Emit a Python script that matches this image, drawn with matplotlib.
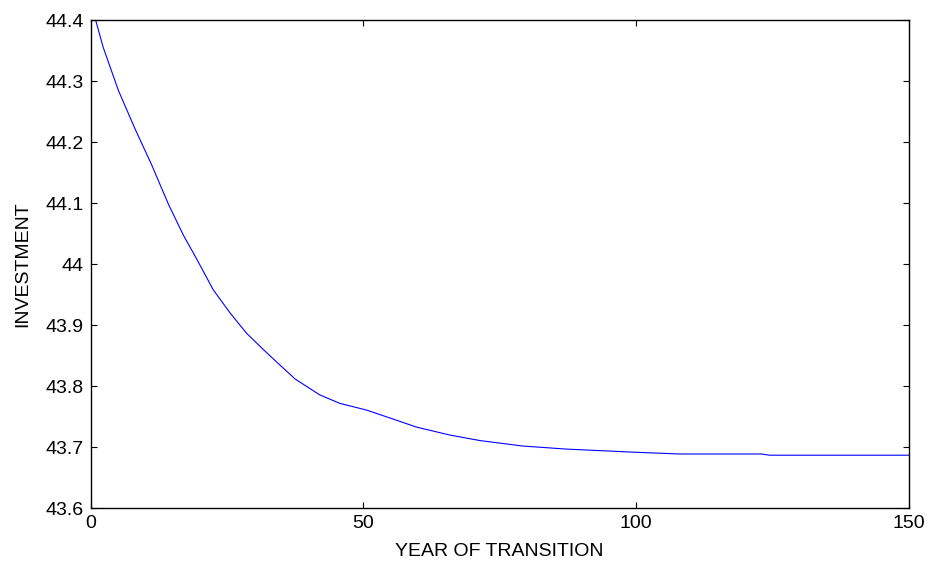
import matplotlib
matplotlib.use("Agg")
import matplotlib.pyplot as plt
from matplotlib.ticker import FormatStrFormatter

plt.rcParams["font.family"] = ["Liberation Sans", "DejaVu Sans"]

# Values
year = [1, 2.3, 5.1, 8.1, 11.2, 14.25, 17, 19.5, 22.5, 25.6, 28.6, 31.7,
        34.7, 37.5, 42, 45.7, 50.6, 54.9, 59.8, 65.9, 71.4, 79.3, 87.3,
        99.5, 108, 123, 124.5, 150]
investment = [44.398, 44.356, 44.285, 44.223, 44.163, 44.099, 44.048, 44.008,
              43.958, 43.920, 43.887, 43.860, 43.835, 43.812, 43.786, 43.772,
              43.761, 43.748, 43.733, 43.720, 43.711, 43.702, 43.697, 43.692,
              43.689, 43.689, 43.687, 43.687]

xticks = [0, 50, 100, 150]
yticks = [43.6, 43.7, 43.8, 43.9, 44.0, 44.1, 44.2, 44.3, 44.4]

fig = plt.figure(figsize=(9.29, 5.63), dpi=100)
ax = fig.add_axes([0.0975, 0.0972, 0.8805, 0.8668])

ax.plot(year, investment, color=(0, 0, 1), linewidth=0.8)

ax.set_xlim(0, 150)
ax.set_ylim(43.6, 44.4)
ax.set_xticks(xticks)
ax.set_yticks(yticks)
ax.yaxis.set_major_formatter(FormatStrFormatter("%g"))

ax.tick_params(direction="in", top=True, right=True, length=4, width=0.8,
               labelsize=14, pad=5)
for s in ax.spines.values():
    s.set_linewidth(1.0)

ax.set_xlabel("YEAR OF TRANSITION", fontsize=14, labelpad=8)
ax.set_ylabel("INVESTMENT", fontsize=14, labelpad=10)

fig.savefig("out.png", dpi=100)
